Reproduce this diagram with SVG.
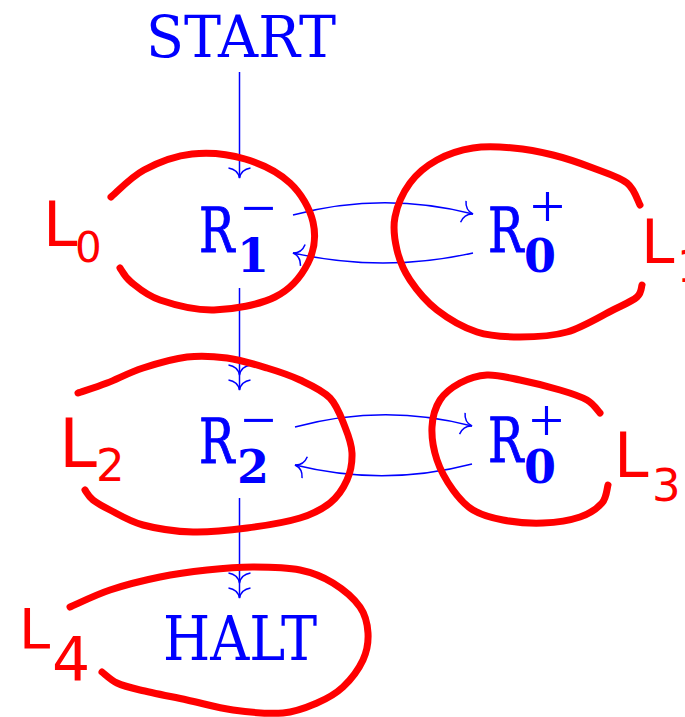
<svg xmlns="http://www.w3.org/2000/svg" width="685" height="717" viewBox="0 0 685 717">
<defs>
<style>
.tt{font-family:"DejaVu Serif","Liberation Serif",serif;fill:#0000ff}
.rr{stroke:#0000ff;stroke-width:1}
.sub{font-family:"DejaVu Serif","Liberation Serif",serif;font-weight:bold;fill:#0000ff}
.sup{font-family:"Liberation Serif","DejaVu Serif",serif;font-weight:normal}
.edge{fill:none;stroke:#0000ff;stroke-width:1.5}
.loop{fill:none;stroke:#ff0000;stroke-width:7;stroke-linecap:round;stroke-linejoin:round}
.lab{font-family:"DejaVu Sans","Liberation Sans",sans-serif;fill:#ff0000}
</style>
<marker id="ah" markerUnits="userSpaceOnUse" orient="auto" refX="0" refY="0" markerWidth="30" markerHeight="30" overflow="visible">
<path d="M-10,-11 C-9,-5 -5,-1 0,0 C-5,1 -9,5 -10,11" fill="none" stroke="#0000ff" stroke-width="1.5"/>
</marker>
<marker id="ah2" markerUnits="userSpaceOnUse" orient="auto" refX="0" refY="0" markerWidth="40" markerHeight="30" overflow="visible">
<path d="M-10,-11 C-9,-5 -5,-1 0,0 C-5,1 -9,5 -10,11 M-25,-11 C-24,-5 -20,-1 -15,0 C-20,1 -24,5 -25,11" fill="none" stroke="#0000ff" stroke-width="1.5"/>
</marker>
</defs>
<rect width="685" height="717" fill="#ffffff"/>

<g id="connectors">
<path class="edge" d="M239.5,72 V178" marker-end="url(#ah)"/>
<path class="edge" d="M239.5,288 V390" marker-end="url(#ah2)"/>
<path class="edge" d="M239.5,498 V598" marker-end="url(#ah2)"/>
<path class="edge" d="M293,215 Q383,191 473,214" marker-end="url(#ah)"/>
<path class="edge" d="M473,253 Q383,273 293,253" marker-end="url(#ah)"/>
<path class="edge" d="M295,427 Q384,403 472,426" marker-end="url(#ah)"/>
<path class="edge" d="M472,464 Q384,487 295,465" marker-end="url(#ah)"/>
</g>

<g id="node-start"><text class="tt" x="146" y="57" font-size="58" textLength="190" lengthAdjust="spacingAndGlyphs">START</text></g>
<g id="node-r1">
<text class="tt rr" font-size="62" transform="translate(199,252) scale(0.76,1)">R</text>
<text class="sub" font-size="46" x="237" y="272">1<tspan class="sup" x="241" y="229" font-size="62">−</tspan></text>
</g>
<g id="node-r0a">
<text class="tt rr" font-size="62" transform="translate(488,252) scale(0.76,1)">R</text>
<text class="sub" font-size="46" x="524" y="272">0<tspan class="sup" x="530" y="227" font-size="62">+</tspan></text>
</g>
<g id="node-r2">
<text class="tt rr" font-size="62" transform="translate(199,463) scale(0.76,1)">R</text>
<text class="sub" font-size="46" x="237" y="483">2<tspan class="sup" x="241" y="441" font-size="62">−</tspan></text>
</g>
<g id="node-r0b">
<text class="tt rr" font-size="62" transform="translate(488,462) scale(0.76,1)">R</text>
<text class="sub" font-size="46" x="524" y="483">0<tspan class="sup" x="529" y="441" font-size="62">+</tspan></text>
</g>
<g id="node-halt"><text class="tt" x="163" y="660" font-size="61" textLength="154" lengthAdjust="spacingAndGlyphs">HALT</text></g>

<g id="loop-L0">
<path class="loop" d="M111,197 C116.5,192.5 130.5,177.2 144,170 C157.5,162.8 175.2,155.8 192,154 C208.8,152.2 228.7,154.2 245,159 C261.3,163.8 278.7,172.5 290,183 C301.3,193.5 310,208.7 313,222 C316,235.3 314.3,250.5 308,263 C301.7,275.5 290.7,289.2 275,297 C259.3,304.8 233.2,309.5 214,310 C194.8,310.5 173.8,304.7 160,300 C146.2,295.3 137.7,287.3 131,282 C124.3,276.7 121.8,270.3 120,268"/>
<text class="lab" x="43" y="246" font-size="62">L<tspan x="75" y="262" font-size="42">0</tspan></text>
</g>
<g id="loop-L1">
<path class="loop" d="M640,205 C637.8,201.3 634.8,189.2 627,183 S605.3,172.7 593,168 S566.3,158.3 553,155 S526.3,149.2 513,148 S485.7,146 473,148 S447.5,154.2 437,160 S417,173.5 410,183 S397.2,205.8 395,217 S394.5,239.5 397,250 S403.3,270 410,280 S425.8,301.3 437,310 S463.2,327.5 477,332 S505,337 520,337 S551.5,336.5 567,332 S601.3,315.8 613,310 S632.2,301.2 637,297 S641.2,287 642,285"/>
<text class="lab" x="641" y="263" font-size="60">L<tspan x="677" y="282" font-size="44">1</tspan></text>
</g>
<g id="loop-L2">
<path class="loop" d="M78,393 C82.8,391.3 96.2,387.2 107,383 S129.7,372.3 143,368 S173,358.7 187,357 S213.7,356.2 227,358 S254.8,364.3 267,368 S289.5,375 300,380 S322.5,390.2 330,398 S341.3,417.8 345,427 S351.7,444.2 352,453 S350.7,471.7 347,480 S337.8,496.7 330,503 S313.8,513.8 300,518 S264.8,525.7 247,528 S210.3,532.5 193,532 S156.8,528.7 143,525 S118.3,514.2 110,510 S97.2,503.3 93,500 S86.3,491.7 85,490"/>
<text class="lab" x="59" y="467" font-size="68">L<tspan x="96" y="481" font-size="45">2</tspan></text>
</g>
<g id="loop-L3">
<path class="loop" d="M600,413 C597.8,410.8 593.7,403.8 587,400 S571.2,393.3 560,390 S532.2,382.5 520,380 S497,374.5 487,375 S467.8,378.8 460,383 S444.7,392.7 440,400 S432.5,417 432,427 S433.5,449.5 437,460 S447,481.7 453,490 S464.7,505 473,510 S491.3,517.8 503,520 S530.2,523.5 543,523 S570.2,520.3 580,517 S597.3,508.3 602,503 S607,488 608,485"/>
<text class="lab" x="614" y="477" font-size="62">L<tspan x="652" y="501" font-size="45">3</tspan></text>
</g>
<g id="loop-L4">
<path class="loop" d="M70,607 C76.7,604.2 95,595 110,590 S143.8,580.3 160,577 S191.5,571.7 207,570 S237.5,567 253,567 S286.7,567.3 300,570 S323,576.8 333,583 S354.2,598.7 360,607 S367.5,624.2 368,633 S367.2,651 363,660 S350.7,679.8 343,687 S327,698.7 317,703 S297,711.8 283,713 S249,712.2 233,710 S202.5,703.3 187,700 S151.7,692.8 140,690 S123.3,686 117,683 S104.5,673.8 102,672"/>
<text class="lab" x="19" y="648" font-size="56">L<tspan x="52" y="680" font-size="60">4</tspan></text>
</g>
</svg>
